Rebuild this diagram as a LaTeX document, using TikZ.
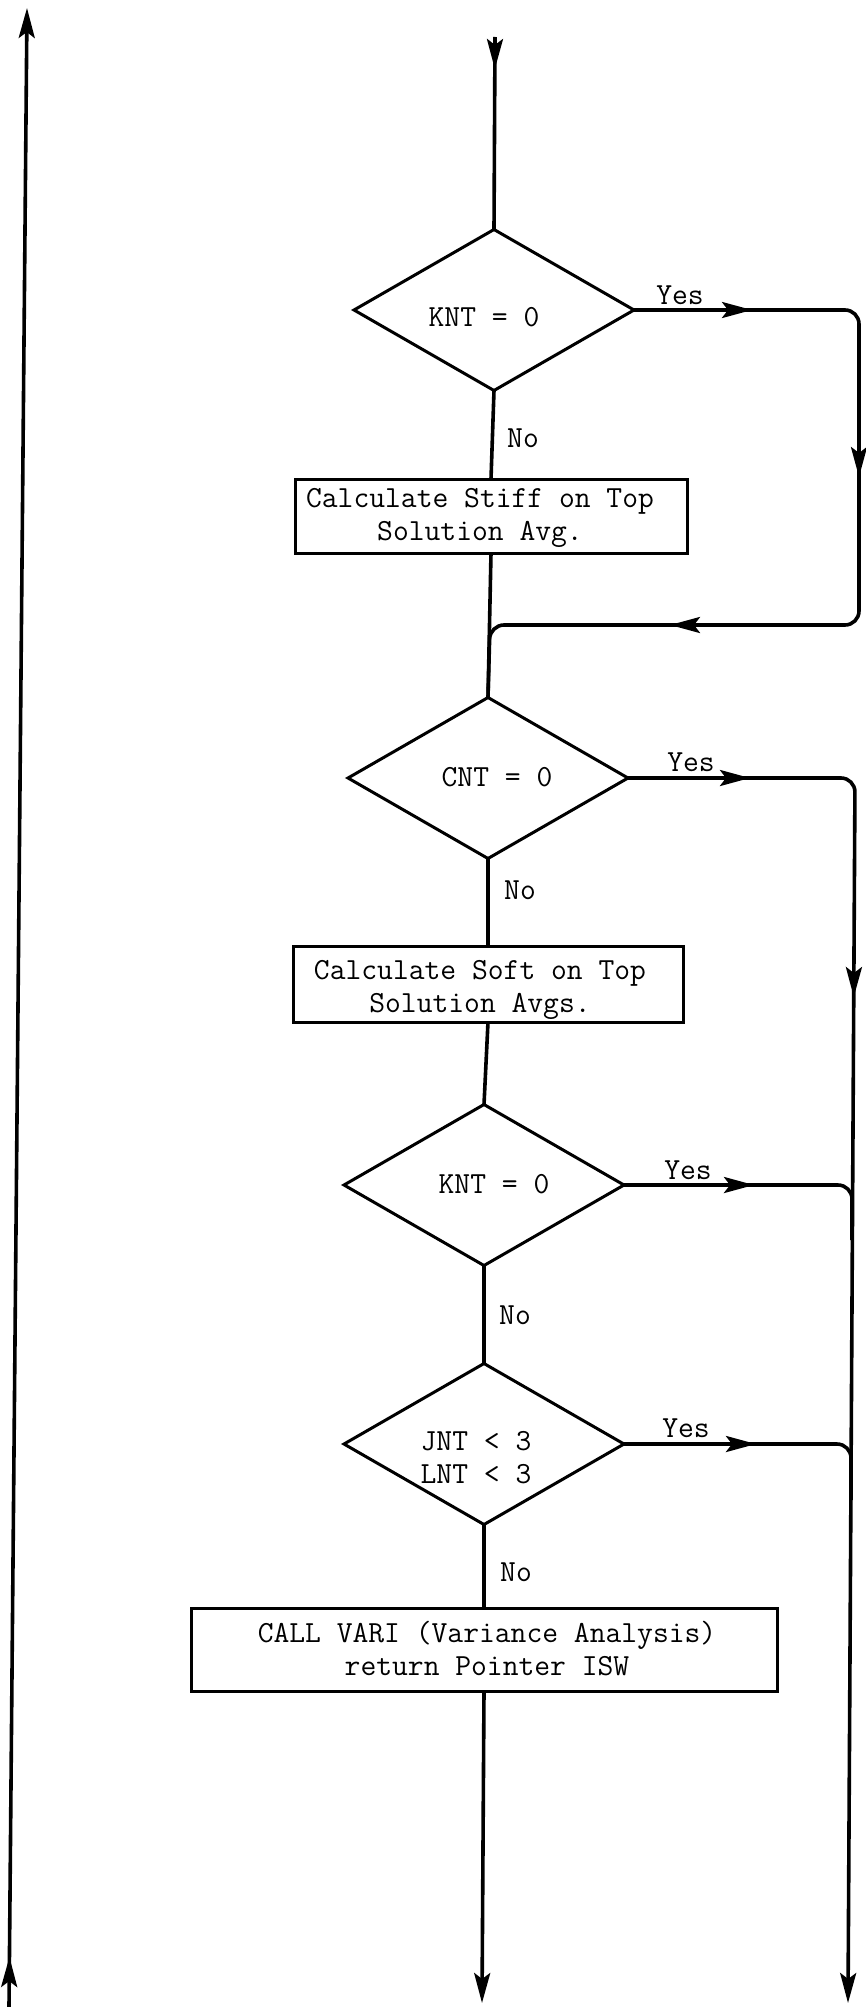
\documentclass[tikz,border=0pt]{standalone}
\usetikzlibrary{shapes.geometric,arrows.meta,decorations.markings}
\begin{document}
\begin{tikzpicture}[x=1pt,y=1pt,
  tipS/.tip={Stealth[length=30pt,width=16pt,inset=6pt]},
  dec/.style={shape=diamond, draw, line width=3pt, minimum width=280pt, minimum height=161pt, inner sep=0pt, outer sep=0pt},
  proc/.style={draw, line width=3pt, rectangle, inner sep=0pt, outer sep=0pt},
  lbl/.style={font=\ttfamily\fontsize{30.7}{33}\selectfont, inner sep=0pt, align=center},
  flow/.style={line width=3.6pt},
  loop/.style={line width=3.6pt, rounded corners=14pt}]
\useasboundingbox (0,0) rectangle (866,-2007);

% shapes
\node[dec] (d1) at (494,-310) {};
\node[lbl] (d1t) at (484,-317) {KNT = 0};
\node[proc, minimum width=392pt, minimum height=74pt] (b1) at (491,-516) {};
\node[lbl] (b1t) at (480,-518) {Calculate Stiff on Top\\Solution Avg.};
\node[dec] (d2) at (488,-778) {};
\node[lbl] (d2t) at (497,-777) {CNT = 0};
\node[proc, minimum width=390pt, minimum height=76pt] (b2) at (488,-984) {};
\node[lbl] (b2t) at (480,-990) {Calculate Soft on Top\\Solution Avgs.};
\node[dec] (d3) at (484,-1185) {};
\node[lbl] (d3t) at (494,-1184) {KNT = 0};
\node[dec] (d4) at (484,-1444) {};
\node[lbl] (d4t) at (476,-1458) {JNT < 3\\LNT < 3};
\node[proc, minimum width=586pt, minimum height=83pt] (b3) at (484,-1649.5) {};
\node[lbl] (b3t) at (487,-1649) {CALL VARI (Variance Analysis)\\return Pointer ISW};

% labels
\node[lbl] (y1) at (680,-295) {Yes};
\node[lbl] (y2) at (691,-762) {Yes};
\node[lbl] (y3) at (688,-1170) {Yes};
\node[lbl] (y4) at (686,-1428) {Yes};
\node[lbl] (n1) at (523,-438) {No};
\node[lbl] (n2) at (520,-890) {No};
\node[lbl] (n3) at (515,-1315) {No};
\node[lbl] (n4) at (516,-1572) {No};

% coordinates
\coordinate (CT) at (495,-37);
\coordinate (LT) at (27,-8);
\coordinate (LB) at (9,-2007);
\coordinate (CB) at (482,-2003);
\coordinate (RB) at (848,-2003);
\coordinate (r1a) at (859,-310);
\coordinate (r1b) at (859,-625);
\coordinate (r1c) at (490,-625);
\coordinate (r2a) at (855,-778);
\coordinate (r3a) at (852,-1185);
\coordinate (r3b) at (852,-1240);
\coordinate (r4a) at (851,-1444);
\coordinate (r4b) at (851,-1500);

% main flow
\draw[flow, postaction=decorate, decoration={markings, mark=at position 32pt with {\arrow{tipS}}}] (CT) -- (d1.north);
\draw[flow] (d1.south) -- (b1.north);
\draw[flow] (b1.south) -- (d2.north);
\draw[flow] (d2.south) -- (b2.north);
\draw[flow] (b2.south) -- (d3.north);
\draw[flow] (d3.south) -- (d4.north);
\draw[flow] (d4.south) -- (b3.north);
\draw[flow, -{tipS}] (b3.south) -- (CB);

% yes branches
\draw[loop, postaction=decorate, decoration={markings,
   mark=at position 118pt with {\arrow{tipS}},
   mark=at position 386pt with {\arrow{tipS}},
   mark=at position 717pt with {\arrow{tipS}}}]
  (d1.east) -- (r1a) -- (r1b) -- (r1c) -- (d2.north);
\draw[loop, -{tipS}, postaction=decorate, decoration={markings,
   mark=at position 122pt with {\arrow{tipS}},
   mark=at position 440pt with {\arrow{tipS}}}]
  (d2.east) -- (r2a) -- (RB);
\draw[loop, postaction=decorate, decoration={markings,
   mark=at position 130pt with {\arrow{tipS}}}]
  (d3.east) -- (r3a) -- (r3b);
\draw[loop, postaction=decorate, decoration={markings,
   mark=at position 132pt with {\arrow{tipS}}}]
  (d4.east) -- (r4a) -- (r4b);

% left return line
\draw[flow, -{tipS}, postaction=decorate, decoration={markings,
   mark=at position 50pt with {\arrow{tipS}}}] (LB) -- (LT);
\end{tikzpicture}
\end{document}
